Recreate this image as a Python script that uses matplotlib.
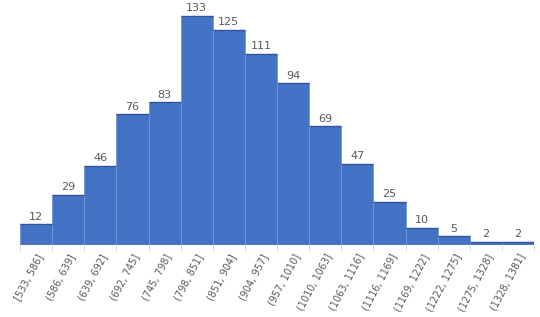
import matplotlib
matplotlib.use("Agg")
import matplotlib.pyplot as plt
import numpy as np

categories = ["[533, 586]", "(586, 639]", "(639, 692]", "(692, 745]", "(745, 798]",
              "(798, 851]", "(851, 904]", "(904, 957]", "(957, 1010]", "(1010, 1063]",
              "(1063, 1116]", "(1116, 1169]", "(1169, 1222]", "(1222, 1275]",
              "(1275, 1328]", "(1328, 1381]"]
counts = [12, 29, 46, 76, 83, 133, 125, 111, 94, 69, 47, 25, 10, 5, 2, 2]

W, H = 540, 317
fig = plt.figure(figsize=(W / 100, H / 100), dpi=100)
ax = fig.add_axes([20 / W, 72 / H, 514 / W, 245 / H])
x = np.arange(len(categories))
ax.bar(x, counts, width=1.0, color="#4472C4", edgecolor="#7396d8", linewidth=0.6)
ax.hlines(counts, x - 0.5, x + 0.5, color="#2f5597", linewidth=1.0)
ax.set_xlim(-0.5, len(categories) - 0.5)
ax.set_ylim(0, 142.3)
for xi, c in zip(x, counts):
    ax.text(xi, c + 1.5, str(c), ha="center", va="bottom", fontsize=8, color="#595959")
ax.set_xticks(x)
ax.set_xticklabels(categories, rotation=62, ha="right", rotation_mode="anchor",
                   fontsize=7, color="#595959")
ax.tick_params(axis="x", which="major", length=0, pad=5)
ax.set_xticks(np.arange(len(categories) + 1) - 0.5, minor=True)
ax.tick_params(axis="x", which="minor", length=4, color="#d9d9d9", width=0.7)
ax.set_yticks([])
for s in ax.spines.values():
    s.set_visible(False)
ax.axhline(0, color="#d9d9d9", linewidth=0.8)
fig.savefig("out.png", dpi=100)
